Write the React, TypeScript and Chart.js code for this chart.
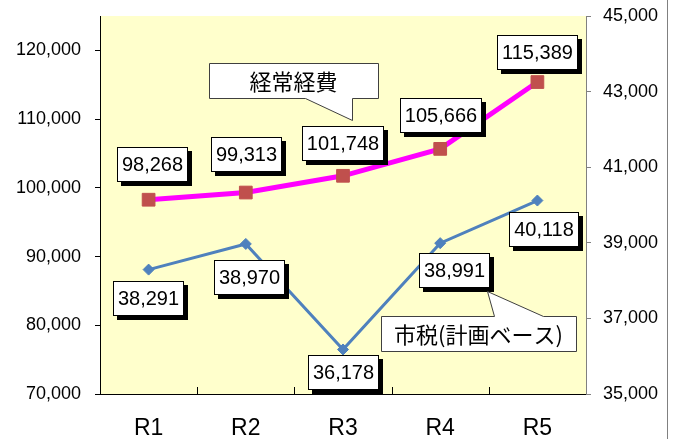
import React, { useEffect, useRef } from "react";
import { Chart, registerables } from "chart.js";

Chart.register(...registerables);

// ---- data ----
const categories = ["R1", "R2", "R3", "R4", "R5"];
const keijoKeihi = [98268, 99313, 101748, 105666, 115389];
const shizei = [38291, 38970, 36178, 38991, 40118];
const leftTicks = [70000, 80000, 90000, 100000, 110000, 120000];
const rightTicks = [35000, 37000, 39000, 41000, 43000, 45000];
const seriesNames = ["経常経費", "市税(計画ベース)"];

// ---- styling / layout ----
const NUM_FONT = '"Liberation Sans", Arial, sans-serif';
const JP_FONT = '"Noto Sans CJK JP", "Noto Sans", sans-serif';
const pinkLabelOffsets = [[4, -35], [1, -38], [0, -32], [1, -33], [0, -30]];
const blueLabelOffsets = [[0, 29], [4, 34], [0, 23], [14, 27], [7, 29]];
const callouts = [
  { text: seriesNames[0], x: 209, y: 63, w: 169, h: 35, side: "bottom", b1: 305, b2: 352, tip: [352, 120] },
  { text: seriesNames[1], x: 381, y: 316, w: 195, h: 35, side: "top", b1: 494, b2: 543, tip: [487, 291] },
];

const fmt = (v: number) => v.toLocaleString("en-US");

function drawValueBox(ctx: CanvasRenderingContext2D, cx: number, cy: number, text: string) {
  ctx.save();
  ctx.font = `20px ${NUM_FONT}`;
  const w = Math.round(ctx.measureText(text).width + 10);
  const h = 35;
  const x = Math.round(cx - w / 2);
  const y = Math.round(cy - h / 2);
  ctx.fillStyle = "#000";
  ctx.fillRect(x + 4, y + 4, w, h);
  ctx.fillStyle = "#fff";
  ctx.fillRect(x, y, w, h);
  ctx.strokeStyle = "#000";
  ctx.lineWidth = 1;
  ctx.strokeRect(x + 0.5, y + 0.5, w - 1, h - 1);
  ctx.fillStyle = "#000";
  ctx.textAlign = "center";
  ctx.textBaseline = "middle";
  ctx.fillText(text, x + w / 2, y + h / 2 + 1);
  ctx.restore();
}

const decorPlugin = {
  id: "decor",
  beforeDraw(chart: any) {
    const { ctx, chartArea } = chart;
    ctx.save();
    ctx.fillStyle = "#FFFFCC";
    ctx.fillRect(chartArea.left, chartArea.top, chartArea.right - chartArea.left, chartArea.bottom - chartArea.top);
    ctx.restore();
  },
  afterDraw(chart: any) {
    const { ctx, chartArea, scales } = chart;
    ctx.save();
    const xs = scales.x;
    ctx.strokeStyle = "#000";
    ctx.lineWidth = 1;
    for (let i = 0; i < categories.length - 1; i++) {
      const px = Math.round((xs.getPixelForValue(i) + xs.getPixelForValue(i + 1)) / 2) + 0.5;
      ctx.beginPath();
      ctx.moveTo(px, chartArea.bottom);
      ctx.lineTo(px, chartArea.bottom - 7);
      ctx.stroke();
    }
    ctx.strokeStyle = "#808080";
    ctx.beginPath();
    ctx.moveTo(667.5, 0);
    ctx.lineTo(667.5, chart.height);
    ctx.stroke();
    ctx.restore();
  },
  afterDatasetsDraw(chart: any) {
    const { ctx } = chart;
    const m0 = chart.getDatasetMeta(0);
    const m1 = chart.getDatasetMeta(1);
    m0.data.forEach((pt: any, i: number) => {
      const [dx, dy] = pinkLabelOffsets[i];
      drawValueBox(ctx, pt.x + dx, pt.y + dy, fmt(keijoKeihi[i]));
    });
    m1.data.forEach((pt: any, i: number) => {
      const [dx, dy] = blueLabelOffsets[i];
      drawValueBox(ctx, pt.x + dx, pt.y + dy, fmt(shizei[i]));
    });
    callouts.forEach((c) => {
      ctx.save();
      ctx.beginPath();
      const L = c.x + 0.5, R = c.x + c.w + 0.5, T = c.y + 0.5, B = c.y + c.h + 0.5;
      if (c.side === "bottom") {
        ctx.moveTo(L, T);
        ctx.lineTo(R, T);
        ctx.lineTo(R, B);
        ctx.lineTo(c.b2 + 0.5, B);
        ctx.lineTo(c.tip[0] + 0.5, c.tip[1] + 0.5);
        ctx.lineTo(c.b1 + 0.5, B);
        ctx.lineTo(L, B);
      } else {
        ctx.moveTo(L, T);
        ctx.lineTo(c.b1 + 0.5, T);
        ctx.lineTo(c.tip[0] + 0.5, c.tip[1] + 0.5);
        ctx.lineTo(c.b2 + 0.5, T);
        ctx.lineTo(R, T);
        ctx.lineTo(R, B);
        ctx.lineTo(L, B);
      }
      ctx.closePath();
      ctx.fillStyle = "#fff";
      ctx.fill();
      ctx.strokeStyle = "#404040";
      ctx.lineWidth = 1;
      ctx.stroke();
      ctx.fillStyle = "#000";
      ctx.font = `22px ${JP_FONT}`;
      ctx.textAlign = "center";
      ctx.textBaseline = "middle";
      ctx.fillText(c.text, c.x + c.w / 2, c.y + c.h / 2 + 1);
      ctx.restore();
    });
  },
};

export default function App() {
  const ref = useRef<HTMLCanvasElement | null>(null);
  useEffect(() => {
    if (!ref.current) return;
    const chart = new Chart(ref.current, {
      type: "line",
      data: {
        labels: categories,
        datasets: [
          {
            label: seriesNames[0],
            data: keijoKeihi,
            yAxisID: "y",
            borderColor: "#FF00FF",
            borderWidth: 5,
            pointStyle: "rect",
            pointRadius: 9,
            pointBackgroundColor: "#C0504D",
            pointBorderColor: "#C0504D",
            pointBorderWidth: 1,
            tension: 0,
            fill: false,
          },
          {
            label: seriesNames[1],
            data: shizei,
            yAxisID: "y1",
            borderColor: "#4F81BD",
            borderWidth: 3,
            pointStyle: "rectRot",
            pointRadius: 5.5,
            pointBackgroundColor: "#4F81BD",
            pointBorderColor: "#4F81BD",
            pointBorderWidth: 1,
            tension: 0,
            fill: false,
          },
        ],
      },
      options: {
        animation: false,
        responsive: false,
        devicePixelRatio: 1,
        events: [],
        layout: { padding: { top: 16, left: 0, right: 0, bottom: 0 } },
        plugins: { legend: { display: false }, tooltip: { enabled: false } },
        scales: {
          x: {
            type: "category",
            offset: true,
            grid: { display: false, drawTicks: false },
            border: { display: true, color: "#000", width: 1 },
            ticks: { color: "#000", font: { family: NUM_FONT, size: 23 }, padding: 21, maxRotation: 0 },
            afterFit: (s: any) => { s.height = 45; s.paddingLeft = 0; s.paddingRight = 0; },
          },
          y: {
            type: "linear",
            position: "left",
            min: 70000,
            max: 125000,
            afterBuildTicks: (s: any) => { s.ticks = leftTicks.map((v) => ({ value: v })); },
            afterFit: (s: any) => { s.width = 100; s.paddingTop = 0; s.paddingBottom = 0; },
            grid: { drawOnChartArea: false, drawTicks: true, tickLength: 5, color: "#000" },
            border: { display: true, color: "#000", width: 1 },
            ticks: { color: "#000", font: { family: NUM_FONT, size: 18 }, padding: 14, callback: (v: any) => fmt(Number(v)) },
          },
          y1: {
            type: "linear",
            position: "right",
            min: 35000,
            max: 45000,
            afterBuildTicks: (s: any) => { s.ticks = rightTicks.map((v) => ({ value: v })); },
            afterFit: (s: any) => { s.width = 94; s.paddingTop = 0; s.paddingBottom = 0; },
            grid: { drawOnChartArea: false, drawTicks: true, tickLength: 5, color: "#808080" },
            border: { display: true, color: "#808080", width: 1 },
            ticks: { color: "#000", font: { family: NUM_FONT, size: 18 }, padding: 12, callback: (v: any) => fmt(Number(v)) },
          },
        },
      },
      plugins: [decorPlugin],
    } as any);
    return () => chart.destroy();
  }, []);
  return (
    <div style={{ position: "absolute", left: 0, top: 0, width: 680, height: 439, background: "#fff" }}>
      <canvas ref={ref} width={680} height={439} style={{ display: "block" }} />
    </div>
  );
}
